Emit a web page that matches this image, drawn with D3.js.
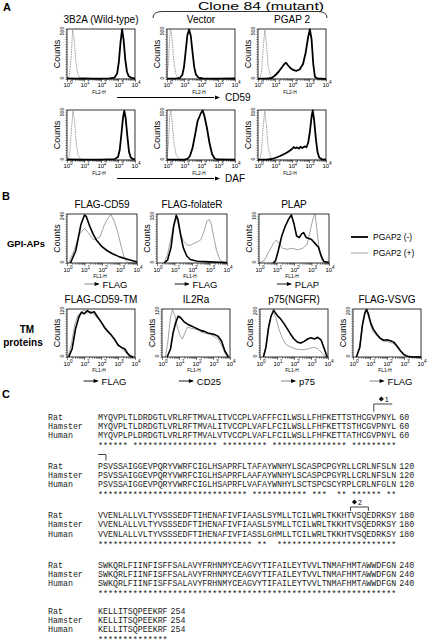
<!DOCTYPE html>
<html>
<head>
<meta charset="utf-8">
<script src="https://cdn.jsdelivr.net/npm/d3@7"></script>
<style>
body { margin: 0; background: #fff; }
svg { display: block; }
</style>
</head>
<body>
<script>
// ---------- data: histograms as [log10 decade, counts] ----------
// panel A, CD59 row
const cd59WT_ctrl = [[0.05,0],[0.15,40],[0.25,240],[0.33,490],[0.42,400],[0.52,180],[0.62,55],[0.75,12],[0.9,2],[1.2,0],[4,0]]
const cd59WT = [[0,6],[0.5,3],[1,5],[1.5,3],[2,4],[2.5,6],[2.8,14],[2.95,55],[3.05,170],[3.15,370],[3.24,495],[3.33,390],[3.43,190],[3.53,70],[3.63,28],[3.78,12],[4,7]]
const cd59Vec_ctrl = [[0,20],[0.08,150],[0.16,420],[0.22,495],[0.3,400],[0.4,180],[0.5,60],[0.65,12],[0.85,0],[4,0]]
const cd59Vec = [[0,4],[0.5,4],[0.75,10],[0.9,40],[1.0,120],[1.1,280],[1.2,440],[1.3,495],[1.4,430],[1.5,270],[1.6,120],[1.7,45],[1.85,14],[2.1,5],[3,3],[4,5]]
const cd59PG_ctrl = [[0.1,0],[0.2,60],[0.3,300],[0.4,490],[0.5,350],[0.6,120],[0.75,25],[0.9,3],[1.1,0],[4,0]]
const cd59PG = [[0,3],[0.5,3],[0.8,10],[1.0,35],[1.2,70],[1.4,115],[1.55,150],[1.65,162],[1.75,140],[1.9,110],[2.1,88],[2.25,82],[2.45,95],[2.65,150],[2.8,260],[2.95,420],[3.05,495],[3.15,400],[3.25,150],[3.35,22],[3.5,5],[4,2]]
// panel A, DAF row
const dafWT_ctrl = [[0.05,0],[0.15,50],[0.25,280],[0.35,490],[0.45,380],[0.55,160],[0.65,50],[0.8,10],[1.0,0],[4,0]]
const dafWT = [[0,5],[1,3],[2,4],[2.8,8],[3.0,30],[3.1,100],[3.2,260],[3.3,430],[3.37,490],[3.45,420],[3.55,240],[3.65,80],[3.75,25],[3.9,8],[4,5]]
const dafVec_ctrl = [[0,20],[0.08,150],[0.16,430],[0.22,495],[0.3,390],[0.42,160],[0.55,45],[0.75,6],[0.95,0],[4,0]]
const dafVec = [[0,3],[1,4],[1.2,10],[1.35,40],[1.5,120],[1.65,250],[1.8,390],[1.9,430],[2.0,470],[2.1,495],[2.2,440],[2.35,320],[2.5,170],[2.65,60],[2.8,15],[3.0,5],[4,3]]
const dafPG_ctrl = [[0.1,0],[0.2,80],[0.3,330],[0.4,490],[0.5,330],[0.6,120],[0.75,25],[0.9,2],[1.1,0],[4,0]]
const dafPG = [[0,3],[0.5,4],[0.8,10],[1.0,20],[1.3,40],[1.6,65],[1.8,85],[2.0,110],[2.1,130],[2.2,118],[2.3,126],[2.4,114],[2.5,132],[2.6,120],[2.75,136],[2.85,128],[2.95,170],[3.05,280],[3.15,430],[3.22,495],[3.3,400],[3.4,220],[3.5,80],[3.6,25],[3.75,8],[4,3]]

// panel B, GPI-APs row: PGAP2(-) black, PGAP2(+) gray
const flagCD59_neg = [[0.2,0],[0.5,60],[0.8,190],[1.0,235],[1.1,228],[1.3,180],[1.5,140],[1.7,110],[2.0,80],[2.3,60],[2.6,45],[3.0,30],[3.4,20],[3.8,10],[4,5]]
const flagCD59_pos = [[0.1,0],[0.4,60],[0.7,140],[1.0,170],[1.2,150],[1.5,115],[1.7,120],[1.9,130],[2.1,180],[2.3,215],[2.5,238],[2.7,205],[2.9,150],[3.1,80],[3.3,20],[3.5,0],[4,0]]
const folateR_neg = [[0.4,0],[0.6,20],[0.8,110],[0.95,260],[1.1,340],[1.2,310],[1.35,200],[1.5,110],[1.7,50],[1.9,25],[2.3,12],[3,8],[3.6,5],[4,3]]
const folateR_pos = [[0.4,0],[0.6,60],[0.8,180],[1.0,300],[1.12,320],[1.3,230],[1.5,160],[1.7,130],[1.9,125],[2.1,140],[2.3,150],[2.5,165],[2.7,230],[2.85,300],[3.0,310],[3.1,280],[3.25,180],[3.4,90],[3.6,20],[3.8,5],[4,3]]
const plap_neg = [[0.8,0],[0.95,5],[1.1,25],[1.3,55],[1.5,75],[1.7,90],[1.85,98],[2.0,80],[2.15,55],[2.3,52],[2.45,60],[2.55,62],[2.7,52],[2.85,50],[3.0,48],[3.2,40],[3.4,32],[3.55,15],[3.7,3],[4,1]]
const plap_pos = [[0,0],[0.3,5],[0.6,25],[0.85,42],[1.0,47],[1.15,40],[1.35,30],[1.6,28],[1.9,30],[2.2,27],[2.5,30],[2.75,38],[2.95,70],[3.1,92],[3.2,100],[3.3,70],[3.45,25],[3.6,5],[3.8,1],[4,0]]
// panel B, TM proteins row
const cd59TM_neg = [[0.1,0],[0.3,20],[0.5,70],[0.7,100],[0.85,112],[1.0,108],[1.2,116],[1.4,110],[1.6,113],[1.8,100],[2.0,88],[2.2,74],[2.4,64],[2.6,55],[2.8,44],[3.0,30],[3.2,24],[3.4,20],[3.55,10],[3.7,3],[3.9,0]]
const cd59TM_pos = [[0.05,0],[0.25,30],[0.45,80],[0.65,105],[0.85,110],[1.0,118],[1.2,110],[1.4,115],[1.6,105],[1.8,98],[2.0,90],[2.2,78],[2.4,66],[2.6,56],[2.8,42],[3.0,32],[3.2,22],[3.4,14],[3.6,4],[3.8,0]]
const il2ra_neg = [[0.3,0],[0.5,20],[0.65,60],[0.8,85],[0.95,102],[1.1,98],[1.3,88],[1.5,82],[1.7,78],[1.9,74],[2.1,70],[2.3,66],[2.5,64],[2.7,60],[2.9,58],[3.1,56],[3.3,52],[3.5,40],[3.7,15],[3.9,0]]
const il2ra_pos = [[0.2,0],[0.35,40],[0.5,100],[0.62,118],[0.75,105],[0.9,75],[1.05,55],[1.2,45],[1.35,60],[1.5,75],[1.7,72],[1.9,70],[2.1,68],[2.3,62],[2.5,60],[2.7,58],[2.9,55],[3.1,50],[3.3,45],[3.5,30],[3.7,10],[3.9,0]]
const p75_neg = [[0.2,0],[0.35,40],[0.5,120],[0.65,170],[0.8,195],[0.9,185],[1.05,170],[1.2,160],[1.4,140],[1.6,118],[1.8,95],[2.0,75],[2.2,62],[2.4,58],[2.6,65],[2.8,75],[3.0,80],[3.2,75],[3.4,82],[3.6,70],[3.8,30],[3.95,0]]
const p75_pos = [[0.2,0],[0.35,50],[0.5,130],[0.65,175],[0.8,185],[0.95,160],[1.1,120],[1.3,80],[1.5,55],[1.7,45],[1.9,38],[2.2,32],[2.5,30],[2.8,33],[3.0,38],[3.2,40],[3.4,35],[3.6,20],[3.8,5],[3.95,0]]
const vsvg_neg = [[0.2,0],[0.4,40],[0.55,130],[0.7,185],[0.8,198],[0.9,180],[1.05,140],[1.2,115],[1.4,95],[1.6,78],[1.8,70],[2.0,72],[2.2,68],[2.4,62],[2.6,45],[2.8,25],[3.0,10],[3.2,3],[3.5,0],[4,0]]
const vsvg_pos = [[0.2,0],[0.4,50],[0.55,140],[0.7,180],[0.8,190],[0.9,170],[1.05,130],[1.2,105],[1.4,88],[1.6,75],[1.8,65],[2.0,65],[2.2,60],[2.4,55],[2.6,40],[2.8,22],[3.0,8],[3.2,2],[3.5,0],[4,0]]

// labels
const titlesA = ['3B2A (Wild-type)', 'Vector', 'PGAP 2']
const markersA = ['CD59', 'DAF']
const ymaxA = 500
const titlesB1 = ['FLAG-CD59', 'FLAG-folateR', 'PLAP']
const ymaxB1 = [240, 350, 100]
const markersB1 = ['FLAG', 'FLAG', 'PLAP']
const titlesB2 = ['FLAG-CD59-TM', 'IL2Ra', 'p75(NGFR)', 'FLAG-VSVG']
const ymaxB2 = [120, 120, 200, 200]
const markersB2 = ['FLAG', 'CD25', 'p75', 'FLAG']
const legendB = ['PGAP2 (-)', 'PGAP2 (+)']
const decades = [0, 1, 2, 3, 4]

// panel C sequences
const seqNames = ['Rat', 'Hamster', 'Human']
const ratSeq = [
  'MYQVPLTLDRDGTLVRLRFTMVALITVCCPLVAFFFCILWSLLFHFKETTSTHCGVPNYL',
  'PSVSSAIGGEVPQRYVWRFCIGLHSAPRFLTAFAYWNHYLSCASPCPGYRLLCRLNFSLN',
  'VVENLALLVLTYVSSSEDFTIHENAFIVFIAASLSYMLLTCILWRLTKKHTVSQEDRKSY',
  'SWKQRLFIINFISFFSALAVYFRHNMYCEAGVYTIFAILEYTVVLTNMAFHMTAWWDFGN',
  'KELLITSQPEEKRF']
const hamsterSeq = [
  'MYQVPLTLDRDGTLVRLRFTMVALITVCCPLVAFLFCILWSLLFHFKETTSTHCGVPNYL',
  'PSVSSAIGGEVPQRYVWRFCIGLHSAPRFLAAFAYWNHYLSCASPCPGYRLLCRLNFSLN',
  'VVENLALLVLTYVSSSEDFTIHENAFIVFIAASLSYMLLTCILWRLTKKHTVSQEDRKSY',
  'SWKQRLFIINFISFFSALAVYFRHNMYCEAGVYTIFAILEYTVVLTNMAFHMTAWWDFGN',
  'KELLITSQPEEKRF']
const humanSeq = [
  'MYQVPLPLDRDGTLVRLRFTMVALVTVCCPLVAFLFCILWSLLFHFKETTATHCGVPNYL',
  'PSVSSAIGGEVPQRYVWRFCIGLHSAPRFLVAFAYWNHYLSCTSPCSCYRPLCRLNFGLN',
  'VVENLALLVLTYVSSSEDFTIHENAFIVFIASSLGHMLLTCILWRLTKKHTVSQEDRKSY',
  'SWKQRLFIINFISFFSALAVYFRHNMYCEAGVYTIFAILEYTVVLTNMAFHMTAWWDFGN',
  'KELLITSQPEEKRF']
const blockEnds = [60, 120, 180, 240, 254]

// ---------- drawing ----------
const W = 432, H = 644
const FONT = 'Liberation Sans, Arial, Helvetica, sans-serif'
const MONO = 'Courier New, Liberation Mono, monospace'

const svg = d3.select('body').append('svg')
    .attr('width', W)
    .attr('height', H)
    .style('font-family', FONT)

const minorTicks = decades.slice(0, 4).flatMap(d => d3.range(2, 10).map(k => d + Math.log10(k)))

function histPlot(x0, y0, w, h, ymax, black, gray, opt) {
    const g = svg.append('g')
    const x = d3.scaleLinear().domain([0, 4]).range([x0, x0 + w])
    const y = d3.scaleLinear().domain([0, ymax]).range([y0 + h, y0])
    const line = d3.line().x(d => x(d[0])).y(d => y(Math.min(d[1], ymax)))

    g.append('path').datum(gray).attr('d', line)
        .attr('fill', 'none').attr('stroke', opt.grayColor)
        .attr('stroke-width', opt.grayWidth)
        .attr('stroke-dasharray', opt.dash || null)
    g.append('path').datum(black).attr('d', line)
        .attr('fill', 'none').attr('stroke', '#000')
        .attr('stroke-width', opt.blackWidth)
        .attr('stroke-linejoin', 'round')

    g.append('rect').attr('x', x0).attr('y', y0).attr('width', w).attr('height', h)
        .attr('fill', 'none').attr('stroke', '#000').attr('stroke-width', 0.8)

    // log ticks on x
    g.append('g').attr('transform', `translate(0,${y0 + h})`)
        .call(d3.axisBottom(x).tickValues(minorTicks).tickSize(1.8).tickFormat(''))
        .call(a => a.select('.domain').remove())
    g.append('g').attr('transform', `translate(0,${y0 + h})`)
        .call(d3.axisBottom(x).tickValues(decades).tickSize(3).tickFormat(''))
        .call(a => a.select('.domain').remove())
    // dense ticks on y
    g.append('g').attr('transform', `translate(${x0},0)`)
        .call(d3.axisLeft(y).tickValues(d3.range(0, ymax + 0.001, ymax / 20)).tickSize(1.5).tickFormat(''))
        .call(a => a.select('.domain').remove())
    g.selectAll('.tick line').attr('stroke-width', 0.5)

    // y labels
    g.append('text').attr('transform', `translate(${x0 - 3},${y0 + 2}) rotate(-90)`)
        .attr('text-anchor', 'middle').attr('font-size', 5.2).text(ymax)
    g.append('text').attr('transform', `translate(${x0 - 3},${y0 + h - 1}) rotate(-90)`)
        .attr('text-anchor', 'middle').attr('font-size', 5.2).text(0)
    g.append('text').attr('transform', `translate(${x0 - 7},${y0 + h / 2}) rotate(-90)`)
        .attr('text-anchor', 'middle').attr('font-size', 9).text('Counts')

    // decade labels
    decades.forEach(k => {
        const t = g.append('text').attr('x', x(k) + 1).attr('y', y0 + h + opt.tickDy)
            .attr('text-anchor', 'middle').attr('font-size', 6)
        t.append('tspan').text('10')
        t.append('tspan').attr('dy', -2.6).attr('font-size', 4.6).text(k)
    })
    g.append('text').attr('x', x0 + w / 2 - 2).attr('y', y0 + h + opt.tickDy + 6.5)
        .attr('text-anchor', 'middle').attr('font-size', 4.8).text(opt.channel)

    if (opt.title) {
        g.append('text').attr('x', x0 + w / 2).attr('y', y0 - 6)
            .attr('text-anchor', 'middle').attr('font-size', 10).text(opt.title)
    }
    return g
}

function arrowHead(x, y, color) {
    svg.append('path')
        .attr('d', `M${x},${y} L${x - 5},${y - 2.1} L${x - 5},${y + 2.1} Z`)
        .attr('fill', color)
}

function smallArrow(cx, y, label, color) {
    const t = svg.append('text').attr('y', y + 3.5).attr('font-size', 9.5).text(label)
    const tw = t.node().getComputedTextLength()
    const total = 15 + 3 + tw
    const xs = cx - total / 2
    svg.append('line').attr('x1', xs).attr('x2', xs + 14).attr('y1', y).attr('y2', y)
        .attr('stroke', color).attr('stroke-width', 0.9)
    arrowHead(xs + 15, y, '#000')
    t.attr('x', xs + 18)
}

// ---------- panel A ----------
svg.append('text').attr('x', 3).attr('y', 11).attr('font-size', 11).attr('font-weight', 'bold').text('A')

const colA = [67, 167, 258]
const rowA = [29, 110]
const plotWA = 68, plotHA = 50
const curvesA = [
    [[cd59WT, cd59WT_ctrl], [cd59Vec, cd59Vec_ctrl], [cd59PG, cd59PG_ctrl]],
    [[dafWT, dafWT_ctrl], [dafVec, dafVec_ctrl], [dafPG, dafPG_ctrl]]
]
rowA.forEach((ry, r) => {
    colA.forEach((cx, c) => {
        histPlot(cx, ry, plotWA, plotHA, ymaxA, curvesA[r][c][0], curvesA[r][c][1], {
            grayColor: '#8a8a8a', grayWidth: 0.8, dash: '1.6,0.8', blackWidth: 1.8,
            tickDy: 8, channel: 'FL2-H', title: r === 0 ? titlesA[c] : null
        })
    })
    // long marker arrow
    const ay = ry + plotHA + 18.5
    svg.append('line').attr('x1', 117).attr('x2', 214).attr('y1', ay).attr('y2', ay)
        .attr('stroke', '#000').attr('stroke-width', 1)
    arrowHead(220, ay, '#000')
    svg.append('text').attr('x', 225).attr('y', ay + 3.8).attr('font-size', 10).text(markersA[r])
})

// clone 84 bracket
svg.append('path').attr('d', 'M153,18 Q153,11.5 162,11.5 H318 Q327,11.5 327,18')
    .attr('fill', 'none').attr('stroke', '#000').attr('stroke-width', 0.8)
svg.append('text').attr('x', 198).attr('y', 9.5).attr('font-size', 10.5)
    .attr('textLength', 126).attr('lengthAdjust', 'spacingAndGlyphs').text('Clone 84 (mutant)')

// ---------- panel B ----------
svg.append('text').attr('x', 2).attr('y', 200).attr('font-size', 11).attr('font-weight', 'bold').text('B')
svg.append('text').attr('x', 26).attr('y', 247).attr('text-anchor', 'middle')
    .attr('font-size', 9.5).attr('font-weight', 'bold').text('GPI-APs')
svg.append('text').attr('x', 27).attr('y', 333).attr('text-anchor', 'middle')
    .attr('font-size', 10).attr('font-weight', 'bold').text('TM')
svg.append('text').attr('x', 23).attr('y', 346).attr('text-anchor', 'middle')
    .attr('font-size', 10).attr('font-weight', 'bold').text('proteins')

const colB1 = [67, 157, 259]
const curvesB1 = [[flagCD59_neg, flagCD59_pos], [folateR_neg, folateR_pos], [plap_neg, plap_pos]]
const arrowColB1 = ['#777', '#000', '#000']
colB1.forEach((cx, i) => {
    histPlot(cx, 214, 70, 49, ymaxB1[i], curvesB1[i][0], curvesB1[i][1], {
        grayColor: '#8c8c8c', grayWidth: 0.8, blackWidth: 1.6,
        tickDy: 8.5, channel: 'FL1-H', title: titlesB1[i]
    })
    smallArrow(cx + 39, 284, markersB1[i], arrowColB1[i])
})

const colB2 = [67, 162, 260, 353]
const curvesB2 = [[cd59TM_neg, cd59TM_pos], [il2ra_neg, il2ra_pos], [p75_neg, p75_pos], [vsvg_neg, vsvg_pos]]
const arrowColB2 = ['#000', '#000', '#777', '#777']
colB2.forEach((cx, i) => {
    histPlot(cx, 309, 68, 48, ymaxB2[i], curvesB2[i][0], curvesB2[i][1], {
        grayColor: '#8c8c8c', grayWidth: 0.8, blackWidth: 1.6,
        tickDy: 8.5, channel: 'FL1-H', title: titlesB2[i]
    })
    smallArrow(cx + 38, 381, markersB2[i], arrowColB2[i])
})

// legend
legendB.forEach((lab, i) => {
    const ly = 237 + i * 16
    svg.append('line').attr('x1', 351).attr('x2', 368).attr('y1', ly).attr('y2', ly)
        .attr('stroke', i === 0 ? '#000' : '#8c8c8c').attr('stroke-width', i === 0 ? 1.8 : 0.8)
    svg.append('text').attr('x', 373).attr('y', ly + 3).attr('font-size', 8.5).text(lab)
})

// ---------- panel C ----------
svg.append('text').attr('x', 2).attr('y', 398).attr('font-size', 11).attr('font-weight', 'bold').text('C')

const charW = 4.97
const seqX = d3.scaleLinear().domain([0, 60]).range([98, 98 + 60 * charW])
const blockY = [419.5, 468.5, 518, 567.5, 613.5]
const rowGap = 9.4
const seqs = [ratSeq, hamsterSeq, humanSeq]
const cg = svg.append('g').style('font-family', MONO).attr('font-size', 8.3).attr('fill', '#222')

blockY.forEach((by, b) => {
    const n = ratSeq[b].length
    seqs.forEach((s, r) => {
        const yy = by + r * rowGap
        cg.append('text').attr('x', 48).attr('y', yy).text(seqNames[r])
        cg.append('text').attr('x', seqX(0)).attr('y', yy)
            .attr('textLength', n * charW).attr('lengthAdjust', 'spacing').text(s[b])
        cg.append('text').attr('x', seqX(n) + 3).attr('y', yy).text(blockEnds[b])
    })
    // conservation stars
    const yy = by + 3 * rowGap + 1.5
    d3.range(n).forEach(i => {
        if (ratSeq[b][i] === hamsterSeq[b][i] && ratSeq[b][i] === humanSeq[b][i]) {
            cg.append('text').attr('x', seqX(i + 0.5)).attr('y', yy)
                .attr('text-anchor', 'middle').text('*')
        }
    })
})

// annotations
function diamond(cx, cy, label) {
    svg.append('path').attr('d', `M${cx},${cy - 2.6} L${cx + 2.6},${cy} L${cx},${cy + 2.6} L${cx - 2.6},${cy} Z`)
        .attr('fill', '#111')
    svg.append('text').attr('x', cx + 3.5).attr('y', cy + 2.7).attr('font-size', 7).text(label)
}
const bk = { stroke: '#111', 'stroke-width': 0.8, fill: 'none' }
function bracketPath(d) {
    const p = svg.append('path').attr('d', d)
    Object.entries(bk).forEach(([k, v]) => p.attr(k, v))
}
diamond(seqX(57), 399, '1')
bracketPath(`M${seqX(55.5)},411.5 V404 H${seqX(59.2)}`)
bracketPath(`M${seqX(0)},454.5 H${seqX(1.6)} V460.5`)
diamond(seqX(51.6), 502, '2')
bracketPath(`M${seqX(50.8)},511 V507 H${seqX(54.4)} V511`)
</script>
</body>
</html>
